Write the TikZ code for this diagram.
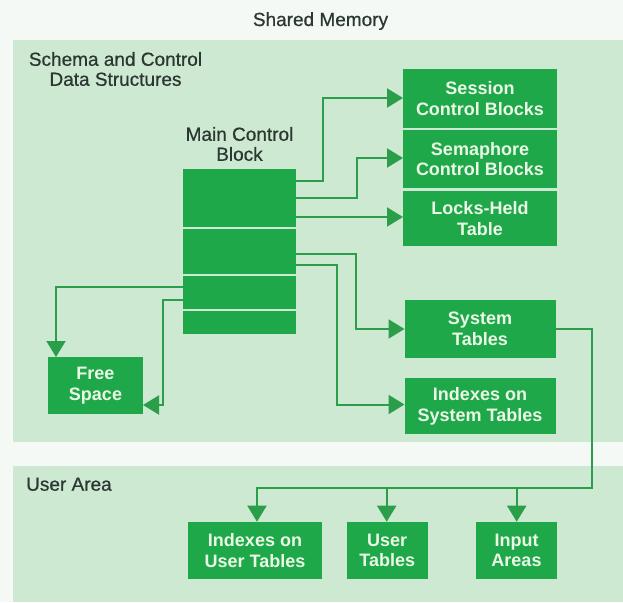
\documentclass[tikz,border=0pt]{standalone}
\usepackage{fontspec}
\setmainfont{Liberation Sans}
\newfontfamily\lblfont{Liberation Sans}[FakeBold=0.7]
\usetikzlibrary{arrows.meta}
\definecolor{pagebg}{RGB}{244,249,245}
\definecolor{panelbg}{RGB}{205,233,210}
\definecolor{boxgreen}{RGB}{30,168,74}
\definecolor{boxtext}{RGB}{236,248,230}
\definecolor{labeltext}{RGB}{45,55,50}
\definecolor{linegreen}{RGB}{42,158,72}
\begin{document}
\begin{tikzpicture}[x=1pt,y=-1pt,
  box/.style={fill=boxgreen, text=boxtext, font=\bfseries\fontsize{18}{20.5}\selectfont, align=center, inner sep=0pt, outer sep=0pt},
  panel/.style={fill=panelbg, draw=none},
  lbl/.style={text=labeltext, font=\lblfont\fontsize{19}{20}\selectfont, align=center, inner sep=0pt},
  conn/.style={draw=linegreen, line width=2pt},
  arr/.style={conn, -{Triangle[length=16pt,width=19pt]}},
  ]
\useasboundingbox (0,0) rectangle (623,602);
\fill[pagebg] (0,0) rectangle (623,602);
% panels
\fill[panel] (13,40.5) rectangle (623,442);
\fill[panel] (13,466) rectangle (623,602);
% labels
\node[lbl, anchor=base] (title) at (320.5,26) {Shared Memory};
\node[lbl] (schema) at (115.5,69) {Schema and Control\\Data Structures};
\node[lbl] (mcblabel) at (239.5,144) {Main Control\\Block};
\node[lbl, anchor=base west] (ua) at (26,490.7) {User Area};
% right column
\node[box, minimum width=154pt, minimum height=59pt] (scb) at (480,98.5) {Session\\Control Blocks};
\node[box, minimum width=154pt, minimum height=58pt] (sem) at (480,159) {Semaphore\\Control Blocks};
\node[box, minimum width=154pt, minimum height=55pt] (lht) at (480,218.5) {Locks-Held\\Table};
\node[box, minimum width=151pt, minimum height=57.7pt] (st) at (480,328.9) {System\\Tables};
\node[box, minimum width=151pt, minimum height=55.7pt] (ist) at (480,406.2) {Indexes on\\System Tables};
% main control block
\node[box, minimum width=113pt, minimum height=58pt] (mcb1) at (239.5,198) {};
\node[box, minimum width=113pt, minimum height=45pt] (mcb2) at (239.5,251.5) {};
\node[box, minimum width=113pt, minimum height=33pt] (mcb3) at (239.5,292.5) {};
\node[box, minimum width=113pt, minimum height=23pt] (mcb4) at (239.5,322.5) {};
% free space
\node[box, minimum width=95pt, minimum height=57pt] (fs) at (95.5,385.5) {Free\\Space};
% user area boxes
\node[box, minimum width=134pt, minimum height=57.6pt] (iut) at (255,550.5) {Indexes on\\User Tables};
\node[box, minimum width=81pt, minimum height=57.6pt] (ut) at (387.2,550.5) {User\\Tables};
\node[box, minimum width=81pt, minimum height=57.6pt] (ia) at (516.5,550.5) {Input\\Areas};
% connectors from main control block
\draw[arr] (mcb1.east |- 0,181) -- (323,181) |- (scb.west |- 0,98);
\draw[arr] (mcb1.east |- 0,198) -- (357,198) |- (sem.west |- 0,158);
\draw[arr] (mcb1.east |- 0,217) -- (lht.west |- 0,217);
\draw[arr] (mcb2.east |- 0,254) -- (356,254) |- (st.west |- 0,329);
\draw[arr] (mcb2.east |- 0,265) -- (337,265) |- (ist.west |- 0,404.5);
\draw[arr] (mcb3.west |- 0,287) -| (fs.north -| 56,0);
\draw[arr] (mcb3.west |- 0,300) -- (163,300) |- (fs.east |- 0,405);
% system tables to user area
\coordinate (jn) at (591.7,488.3);
\coordinate (b1) at (257,488.3);
\coordinate (b2) at (386.7,488.3);
\coordinate (b3) at (516.7,488.3);
\draw[arr] (st.east |- 0,329) -| (jn) -| (iut.north -| b1);
\draw[arr] (b2) -- (ut.north -| b2);
\draw[arr] (b3) -- (ia.north -| b3);
\end{tikzpicture}
\end{document}
